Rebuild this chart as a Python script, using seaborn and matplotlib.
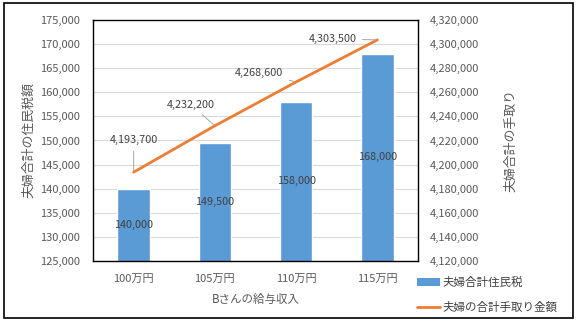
import numpy as np
import pandas as pd
import matplotlib
matplotlib.use("Agg")
import matplotlib.pyplot as plt
import seaborn as sns
from matplotlib.patches import Rectangle, Patch
from matplotlib.lines import Line2D

categories = ["100万円", "105万円", "110万円", "115万円"]
tax_values = [140000, 149500, 158000, 168000]
net_values = [4193700, 4232200, 4268600, 4303500]
tax_name = "夫婦合計住民税"
net_name = "夫婦の合計手取り金額"
left_ticks = list(range(125000, 175001, 5000))
right_ticks = list(range(4120000, 4320001, 20000))

sns.set_theme(style="white")
plt.rcParams['font.family'] = ['Noto Sans CJK JP', 'DejaVu Sans']

BLUE = "#5B9BD5"
ORANGE = "#ED7D31"
TXT = "#595959"

fig = plt.figure(figsize=(5.81, 3.27), dpi=100)
ax = fig.add_axes([93/581, 1-261/327, (418-93)/581, (261-20)/327])

df = pd.DataFrame({"cat": categories, "tax": tax_values, "net": net_values})
sns.barplot(data=df, x="cat", y="tax", color=BLUE, width=0.4, ax=ax,
            saturation=1, zorder=2)
ax.set_ylim(left_ticks[0], left_ticks[-1])
ax.set_yticks(left_ticks)
ax.set_yticklabels([f"{t:,}" for t in left_ticks], fontsize=8, color=TXT)
ax.set_xlim(-0.5, 3.5)
ax.tick_params(axis='x', labelsize=8, colors=TXT, length=0, pad=9)
ax.tick_params(axis='y', length=0, pad=9.5)
ax.grid(axis='y', color="#D9D9D9", lw=0.8, zorder=0)
ax.set_axisbelow(True)
for s in ax.spines.values():
    s.set_color("black")
    s.set_linewidth(1.0)
ax.set_xlabel("Bさんの給与収入", fontsize=8.3, color=TXT, labelpad=7)
ax.set_ylabel("夫婦合計の住民税額", fontsize=9.3, color=TXT, labelpad=3)

for cont in ax.containers:
    ax.bar_label(cont, labels=[f"{v:,}" for v in tax_values], label_type='center',
                 fontsize=7.8, color="#404040")

ax2 = ax.twinx()
sns.lineplot(x=np.arange(len(categories)), y=net_values, color=ORANGE, lw=2.0, ax=ax2)
ax2.set_ylim(right_ticks[0], right_ticks[-1])
ax2.set_yticks(right_ticks)
ax2.set_yticklabels([f"{t:,}" for t in right_ticks], fontsize=8, color=TXT)
ax2.tick_params(axis='y', length=0, pad=8.5)
ax2.set_ylabel("夫婦合計の手取り", fontsize=9.3, color=TXT, labelpad=18)
for s in ax2.spines.values():
    s.set_visible(False)

offsets = [(0, 32), (-24, 21), (-37, 9), (-45, 1)]
for i, (v, off) in enumerate(zip(net_values, offsets)):
    ax2.annotate(f"{v:,}", xy=(i, v), xytext=off, textcoords='offset pixels',
                 ha='center', va='center', fontsize=7.8, color="#404040",
                 arrowprops=dict(arrowstyle='-', color="#A6A6A6", lw=0.7,
                                 shrinkA=2, shrinkB=1))

handles = [Patch(facecolor=BLUE, edgecolor='none'),
           Line2D([0], [0], color=ORANGE, lw=2.0)]
fig.legend(handles, [tax_name, net_name], loc='upper left',
           bbox_to_anchor=(417/581, 1-276/327), frameon=False, fontsize=8.3,
           handlelength=2.0, handleheight=0.6, labelspacing=1.05,
           handletextpad=0.25, borderaxespad=0, borderpad=0,
           labelcolor="#404040")

fig.patches.append(Rectangle((4/581, 1-318/327), (573-4)/581, (318-3)/327,
                             transform=fig.transFigure, fill=False,
                             edgecolor='black', lw=1.2))

fig.savefig("out.png", dpi=100)
